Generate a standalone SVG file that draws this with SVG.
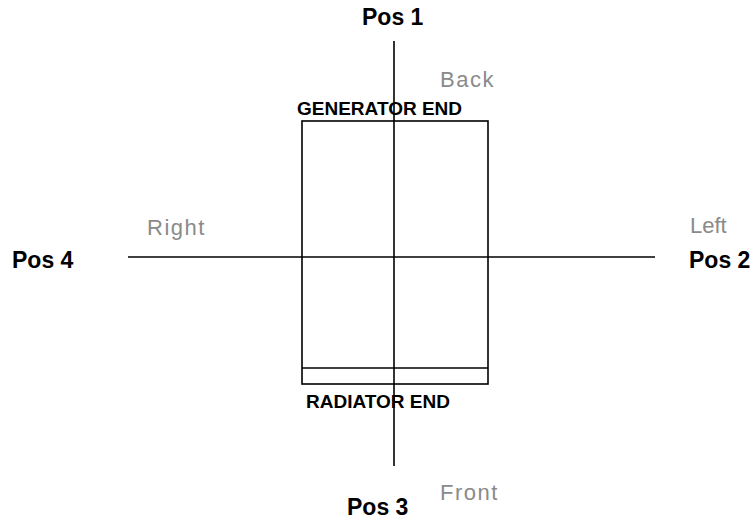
<svg xmlns="http://www.w3.org/2000/svg" width="751" height="519" viewBox="0 0 751 519">
<style>
.pos{font-family:"Liberation Sans",Arial,sans-serif;font-weight:bold;font-size:23px;fill:#000}
.dir{font-family:"Liberation Sans",Arial,sans-serif;font-size:22px;fill:#8a8a8a;letter-spacing:1.5px}
.lbl{font-family:"Liberation Sans",Arial,sans-serif;font-weight:bold;font-size:19px;fill:#000}
.ln{stroke:#000;stroke-width:1.6;fill:none}
</style>
<rect width="751" height="519" fill="#fff"/>
<g id="engine">
<rect class="ln" x="302" y="121" width="186" height="263"/>
<line class="ln" x1="302" y1="368" x2="488" y2="368"/>
</g>
<g id="connectors">
<line class="ln" x1="394" y1="41" x2="394" y2="466"/>
<line class="ln" x1="128" y1="257" x2="655" y2="257"/>
</g>
<g id="labels">
<text class="pos" x="362" y="25">Pos 1</text>
<text class="dir" x="440" y="87">Back</text>
<text class="lbl" x="297" y="115">GENERATOR END</text>
<text class="lbl" x="306" y="408">RADIATOR END</text>
<text class="pos" x="347" y="515">Pos 3</text>
<text class="dir" x="440" y="500">Front</text>
<text class="dir" x="147" y="235">Right</text>
<text class="pos" x="12" y="268">Pos 4</text>
<text class="dir" x="690" y="233" style="letter-spacing:0">Left</text>
<text class="pos" x="689" y="268">Pos 2</text>
</g>
</svg>
